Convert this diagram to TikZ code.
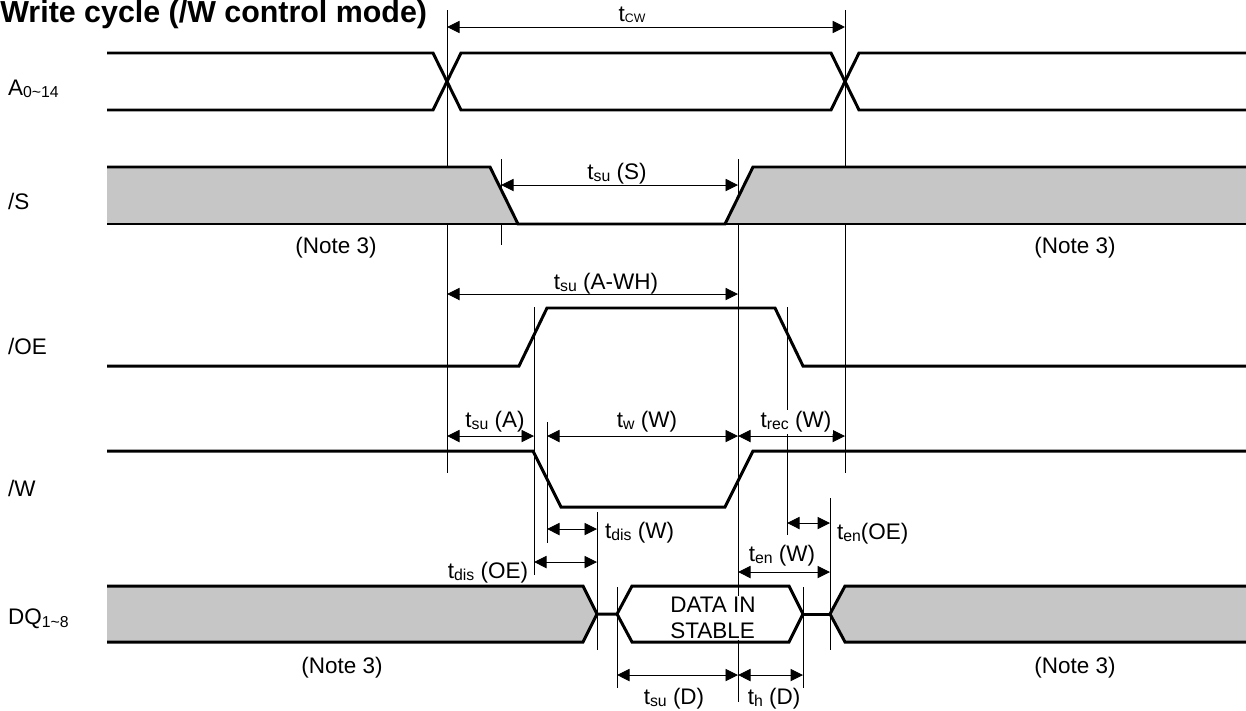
\documentclass[tikz,border=0pt]{standalone}
\usepackage{fontspec}
\setmainfont{Liberation Sans}
\usetikzlibrary{arrows.meta}
\definecolor{busgrey}{RGB}{198,198,198}
\newcommand{\tsb}[1]{t\raisebox{-0.12ex}{\fontsize{9}{9}\selectfont #1}}
\newcommand{\pinsub}[1]{\raisebox{-0.2ex}{\fontsize{9}{9}\selectfont #1}}

\begin{document}
\begin{tikzpicture}[x=0.02cm,y=-0.02cm,
	sig/.style={line width=1.7pt, line join=miter},
	guide/.style={line width=0.55pt},
	dim/.style={line width=0.55pt, {Triangle[length=0.25cm,width=0.245cm]}-{Triangle[length=0.25cm,width=0.245cm]}},
	lbl/.style={font=\fontsize{12.8}{15}\selectfont, inner sep=1pt},
	pin/.style={lbl, anchor=west}]
	\useasboundingbox (0,0) rectangle (1246,710);

	\node[anchor=base west, inner sep=0pt, font=\bfseries\fontsize{17.3}{20}\selectfont] (title) at (0,22) {Write cycle (/W control mode)};

	\node[pin] (a) at (6,89) {A\pinsub{0\textasciitilde 14}};
	\node[pin] (s) at (6,201) {/S};
	\node[pin] (oe) at (6,346) {/OE};
	\node[pin] (w) at (6,488) {/W};
	\node[pin] (dq) at (6,619) {DQ\pinsub{1\textasciitilde 8}};

	\draw[guide] (447,10) -- (447,473);
	\draw[guide] (845,10) -- (845,473);
	\draw[guide] (501,159) -- (501,245);
	\draw[guide] (738,159) -- (738,702);
	\draw[guide] (534,307) -- (534,575);
	\draw[guide] (787,307) -- (787,535);
	\draw[guide] (547,422) -- (547,543);
	\draw[guide] (597,512) -- (597,650);
	\draw[guide] (830,498) -- (830,650);
	\draw[guide] (617,587) -- (617,688);
	\draw[guide] (803,587) -- (803,688);

	\fill[busgrey] (107,167) -- (490,167) -- (518,224) -- (107,224) -- cycle;
	\fill[busgrey] (725,224) -- (753,167) -- (1246,167) -- (1246,224) -- cycle;
	\fill[busgrey] (107,586) -- (583,586) -- (597,614) -- (583,642) -- (107,642) -- cycle;
	\fill[busgrey] (1246,586) -- (845,586) -- (830,614) -- (845,642) -- (1246,642) -- cycle;

	\node[lbl, fill=white, align=left, inner sep=0.5pt] (data) at (713,618) {DATA IN\\STABLE};

	\draw[sig] (107,53) -- (433,53) -- (461,110) -- (831,110) -- (859,53) -- (1246,53);
	\draw[sig] (107,110) -- (433,110) -- (461,53) -- (831,53) -- (859,110) -- (1246,110);
	\draw[sig] (107,167) -- (490,167) -- (518,224) -- (725,224) -- (753,167) -- (1246,167);
	\draw[sig] (107,224) -- (1246,224);
	\draw[sig] (107,366) -- (519,366) -- (547,308) -- (775,308) -- (803,366) -- (1246,366);
	\draw[sig] (107,451) -- (533,451) -- (561,507) -- (725,507) -- (753,451) -- (1246,451);
	\draw[sig] (107,586) -- (583,586) -- (597,614) -- (583,642) -- (107,642);
	\draw[sig] (597,614) -- (617,614) -- (632,586) -- (789,586) -- (803,614) -- (789,642) -- (632,642) -- (617,614);
	\draw[sig] (803,614) -- (830,614);
	\draw[sig] (1246,586) -- (845,586) -- (830,614) -- (845,642) -- (1246,642);

	\coordinate (cw1) at (447,27);
	\coordinate (cw2) at (845,27);
	\coordinate (ss1) at (501,185);
	\coordinate (ss2) at (738,185);
	\coordinate (awh1) at (447,294);
	\coordinate (awh2) at (738,294);
	\coordinate (sa1) at (447,436);
	\coordinate (sa2) at (534,436);
	\coordinate (ww1) at (547,436);
	\coordinate (ww2) at (738,436);
	\coordinate (rw1) at (738,436);
	\coordinate (rw2) at (845,436);
	\coordinate (dw1) at (547,529);
	\coordinate (dw2) at (597,529);
	\coordinate (doe1) at (534,562);
	\coordinate (doe2) at (597,562);
	\coordinate (eoe1) at (787,523);
	\coordinate (eoe2) at (830,523);
	\coordinate (ew1) at (738,572);
	\coordinate (ew2) at (830,572);
	\coordinate (sd1) at (617,675);
	\coordinate (sd2) at (738,675);
	\coordinate (hd1) at (738,675);
	\coordinate (hd2) at (803,675);

	\path [dim]
	(cw1) edge (cw2)
	(ss1) edge (ss2)
	(awh1) edge (awh2)
	(sa1) edge (sa2)
	(ww1) edge (ww2)
	(rw1) edge (rw2)
	(dw1) edge (dw2)
	(doe1) edge (doe2)
	(eoe1) edge (eoe2)
	(ew1) edge (ew2)
	(sd1) edge (sd2)
	(hd1) edge (hd2);

	\node[lbl] (tcw) at (632,15) {t\raisebox{-0.12ex}{\fontsize{7}{7}\selectfont CW}};
	\node[lbl] (tss) at (617,174) {\tsb{su} (S)};
	\node[lbl] (tawh) at (606,284) {\tsb{su} (A-WH)};
	\node[lbl] (tsa) at (495,422) {\tsb{su} (A)};
	\node[lbl] (tww) at (647,422) {\tsb{w} (W)};
	\node[lbl, fill=white] (trw) at (796,422) {\tsb{rec} (W)};
	\node[pin] (tdw) at (603,533) {\tsb{dis} (W)};
	\node[lbl] (tdoe) at (488,573) {\tsb{dis} (OE)};
	\node[pin] (teoe) at (835,534) {\tsb{en}(OE)};
	\node[lbl] (tew) at (782,556) {\tsb{en} (W)};
	\node[lbl] (tsd) at (674,699) {\tsb{su} (D)};
	\node[lbl] (thd) at (774,699) {\tsb{h} (D)};

	\node[lbl] (n1) at (336,248) {(Note 3)};
	\node[lbl] (n2) at (1075,248) {(Note 3)};
	\node[lbl] (n3) at (342,668) {(Note 3)};
	\node[lbl] (n4) at (1075,668) {(Note 3)};
\end{tikzpicture}
\end{document}
